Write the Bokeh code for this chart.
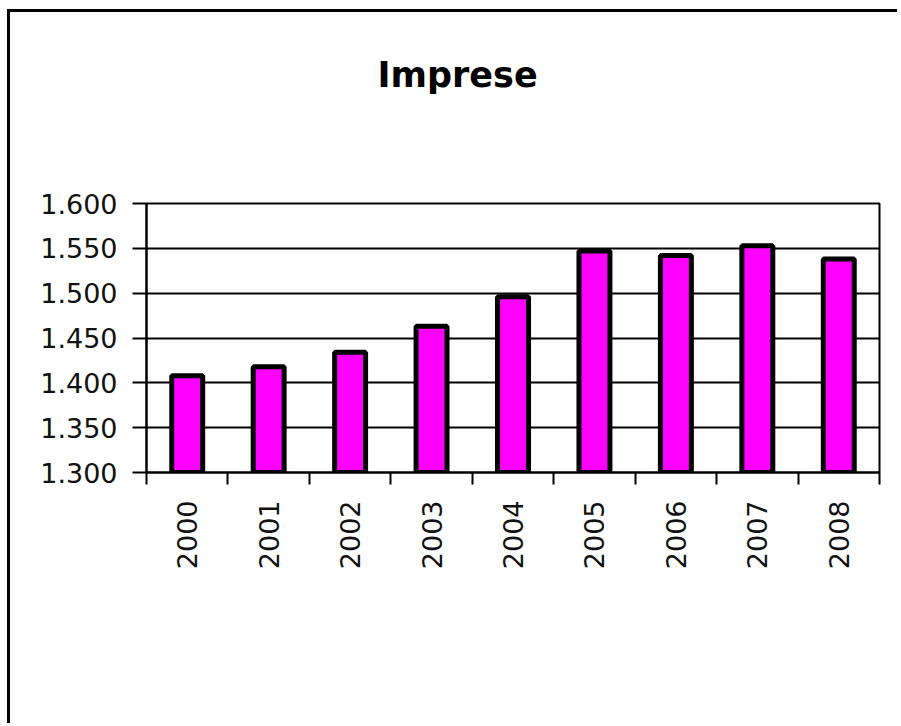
import math
from bokeh.plotting import figure
from bokeh.models import Range1d, FixedTicker, Title
from bokeh.embed import file_html
from bokeh.resources import INLINE

# ---- data ----
title_text = "Imprese"
years = ["2000", "2001", "2002", "2003", "2004", "2005", "2006", "2007", "2008"]
imprese = [1408, 1418, 1434, 1463, 1496, 1547, 1542, 1553, 1538]
y_ticks = [1300, 1350, 1400, 1450, 1500, 1550, 1600]
y_labels = ["1.300", "1.350", "1.400", "1.450", "1.500", "1.550", "1.600"]

n = len(years)
x_pos = [i + 0.5 for i in range(n)]

FONT = "DejaVu Sans"

p = figure(width=890, height=714, output_backend="svg", toolbar_location=None,
           x_range=Range1d(0, n), y_range=Range1d(y_ticks[0], y_ticks[-1]),
           min_border_left=136, min_border_right=21, min_border_top=191,
           min_border_bottom=254)
p.styles = {"border-top": "3px solid #000000", "border-left": "3px solid #000000",
            "margin-left": "7px", "margin-top": "9px"}

p.vbar(x=x_pos, top=imprese, bottom=y_ticks[0], width=0.38,
       fill_color="#FF00FF", line_color="#000000", line_width=5)

# title: an empty spacer title next to the frame pushes the real title upwards
p.title.text = ""
spacer = Title(text=" ", text_font_size="10px", standoff=91)
p.add_layout(spacer, "above")
main_title = Title(text=title_text, align="left", offset=231, standoff=10,
                   text_font=FONT, text_font_size="35px", text_font_style="bold",
                   text_color="#000000")
p.add_layout(main_title, "above")

# frame
p.outline_line_color = "#000000"
p.outline_line_width = 2
p.background_fill_color = "#FFFFFF"
p.border_fill_color = "#FFFFFF"

# grid
p.xgrid.visible = False
p.ygrid.ticker = FixedTicker(ticks=y_ticks)
p.ygrid.grid_line_color = "#000000"
p.ygrid.grid_line_width = 2
p.ygrid.grid_line_alpha = 1.0

# y axis
p.yaxis.ticker = FixedTicker(ticks=y_ticks)
p.yaxis.major_label_overrides = {t: lab for t, lab in zip(y_ticks, y_labels)}
p.yaxis.axis_line_color = "#000000"
p.yaxis.axis_line_width = 2
p.yaxis.major_tick_line_color = "#000000"
p.yaxis.major_tick_line_width = 2
p.yaxis.major_tick_out = 14
p.yaxis.major_tick_in = 0
p.yaxis.minor_tick_line_color = None
p.yaxis.major_label_standoff = 15
p.yaxis.major_label_text_font = FONT
p.yaxis.major_label_text_font_size = "27px"
p.yaxis.major_label_text_color = "#111111"

# x axis: labels at bar centres, tick marks at category boundaries
p.xaxis.ticker = FixedTicker(ticks=x_pos, minor_ticks=list(range(n + 1)))
p.xaxis.major_label_overrides = {x: y for x, y in zip(x_pos, years)}
p.xaxis.major_label_orientation = math.pi / 2
p.xaxis.axis_line_color = "#000000"
p.xaxis.axis_line_width = 2
p.xaxis.major_tick_line_color = None
p.xaxis.major_tick_out = 0
p.xaxis.major_tick_in = 0
p.xaxis.minor_tick_line_color = "#000000"
p.xaxis.minor_tick_line_width = 2
p.xaxis.minor_tick_out = 12
p.xaxis.minor_tick_in = 0
p.xaxis.major_label_standoff = 16
p.xaxis.major_label_text_font = FONT
p.xaxis.major_label_text_font_size = "27px"
p.xaxis.major_label_text_color = "#111111"

open("out.html", "w").write(file_html(p, INLINE))
